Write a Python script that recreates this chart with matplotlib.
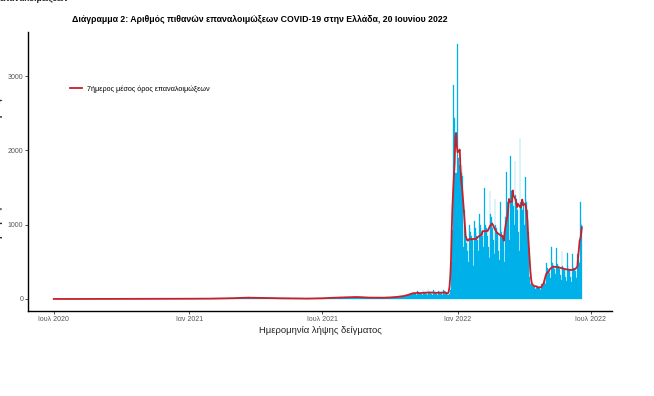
import numpy as np
import pandas as pd
import matplotlib
matplotlib.use("Agg")
import matplotlib.pyplot as plt

plt.rcParams['font.family'] = ['Liberation Sans', 'DejaVu Sans']

# ημερήσιες πιθανές επαναλοιμώξεις, από 1 Ιουλίου 2020 ως 19 Ιουνίου 2022
jul_2020 = [0, 0, 0, 1, 0, 0, 0, 0, 1, 0, 0, 0, 0, 0, 1, 0, 0, 0, 0, 0, 1, 0, 0, 0, 0, 1, 0, 0, 0, 0, 0]
aug_2020 = [0, 1, 0, 0, 0, 1, 0, 0, 0, 0, 1, 0, 0, 0, 0, 1, 0, 0, 1, 0, 0, 0, 0, 1, 0, 0, 0, 1, 0, 0, 0]
sep_2020 = [1, 0, 0, 1, 0, 0, 1, 0, 0, 1, 0, 0, 1, 0, 1, 0, 0, 1, 0, 0, 1, 0, 1, 0, 0, 1, 0, 0, 1, 0]
oct_2020 = [1, 0, 1, 0, 2, 1, 0, 1, 0, 2, 1, 0, 1, 2, 0, 1, 1, 0, 2, 1, 0, 1, 2, 1, 0, 1, 2, 1, 0, 1, 2]
nov_2020 = [2, 1, 3, 2, 1, 2, 3, 1, 2, 2, 3, 1, 2, 3, 2, 1, 2, 3, 2, 2, 1, 3, 2, 2, 3, 1, 2, 3, 2, 1]
dec_2020 = [2, 3, 2, 1, 2, 3, 2, 2, 1, 3, 2, 2, 3, 1, 2, 2, 3, 2, 1, 2, 3, 2, 1, 2, 2, 3, 2, 1, 2, 3, 2]
jan_2021 = [3, 2, 4, 3, 2, 4, 3, 5, 2, 3, 4, 3, 5, 4, 3, 2, 4, 5, 3, 4, 6, 3, 4, 5, 4, 3, 6, 4, 5, 4, 3]
feb_2021 = [5, 4, 6, 5, 7, 4, 5, 6, 8, 5, 6, 7, 5, 8, 6, 7, 9, 6, 7, 8, 6, 9, 8, 7, 10, 8, 9, 7]
mar_2021 = [10, 12, 9, 11, 14, 10, 12, 15, 11, 13, 16, 12, 14, 18, 13, 15, 17, 14, 16, 19, 15, 17, 20, 16, 18, 15, 19, 17, 14, 18, 16]
apr_2021 = [17, 15, 19, 14, 16, 18, 13, 17, 15, 14, 16, 12, 15, 13, 14, 11, 13, 15, 12, 14, 11, 13, 10, 12, 14, 11, 10, 12, 9, 11]
may_2021 = [9, 10, 8, 11, 9, 7, 10, 8, 9, 7, 8, 10, 6, 8, 7, 9, 6, 8, 7, 5, 8, 6, 7, 5, 6, 8, 5, 7, 6, 5, 7]
jun_2021 = [5, 6, 4, 7, 5, 6, 4, 5, 6, 4, 5, 7, 4, 5, 6, 4, 5, 6, 5, 4, 6, 5, 7, 5, 6, 8, 6, 7, 9, 7]
jul_2021 = [8, 10, 9, 12, 11, 13, 10, 14, 12, 15, 13, 16, 14, 17, 15, 18, 16, 14, 17, 19, 16, 18, 20, 17, 19, 21, 18, 20, 22, 19, 21]
aug_2021 = [22, 20, 24, 21, 25, 23, 19, 26, 24, 22, 27, 25, 23, 28, 26, 24, 29, 25, 27, 23, 26, 24, 22, 25, 21, 23, 20, 22, 19, 21, 18]
sep_2021 = [20, 17, 19, 16, 18, 15, 17, 14, 16, 18, 15, 17, 14, 16, 13, 15, 17, 14, 16, 18, 15, 17, 19, 16, 18, 20, 17, 19, 21, 18]
oct_2021 = [20, 22, 19, 23, 25, 21, 24, 26, 22, 28, 30, 26, 32, 29, 34, 31, 36, 33, 38, 42, 37, 45, 50, 46, 55, 60, 52, 65, 70, 62, 75]
nov_2021 = [80, 72, 85, 95, 78, 60, 55, 110, 90, 85, 80, 75, 62, 50, 120, 95, 88, 82, 78, 65, 55, 130, 100, 92, 86, 80, 68, 58, 125, 98]
dec_2021 = [85, 95, 70, 60, 55, 110, 100, 90, 85, 80, 65, 55, 120, 105, 95, 90, 80, 60, 60, 55,
            70, 120, 250, 500, 930, 1500, 2880, 2440, 1700, 1600, 1700]
jan_2022 = [3430, 1900, 1700, 1800, 1750, 1700, 1800, 1650, 700, 1200, 1000, 850, 750, 800, 650, 500,
            1000, 950, 900, 850, 800, 650, 450, 1050, 950, 900, 850, 800, 650, 500, 1150]
feb_2022 = [1000, 950, 900, 850, 700, 500, 1490, 1000, 950, 900, 850, 700, 550, 1460, 1150, 1100,
            1050, 950, 800, 600, 1350, 1000, 950, 900, 850, 650, 520, 1300]
mar_2022 = [950, 900, 850, 800, 650, 500, 1100, 700, 1710, 1300, 1250, 1000, 800, 1920, 1450, 1400,
            1350, 1250, 1000, 1860, 1400, 1350, 1300, 1200, 900, 650, 2170, 1300, 1250, 1200, 1150]
apr_2022 = [1300, 1000, 1640, 1350, 1300, 1200, 900, 700, 300, 200, 210, 190, 170, 160, 220, 180,
            140, 150, 180, 170, 160, 150, 130, 120, 200, 170, 160, 190, 260, 280]
may_2022 = [200, 480, 420, 400, 380, 350, 280, 250, 700, 480, 450, 430, 400, 330, 260, 680,
            470, 440, 420, 400, 320, 250, 650, 450, 420, 400, 380, 300, 240, 620, 440]
jun_2022 = [410, 390, 370, 290, 230, 600, 440, 420, 400, 380, 300, 280, 600, 520, 500, 480, 1300, 1080, 1000]

x_tick_dates = ['2020-07-01', '2021-01-01', '2021-07-01', '2022-01-01', '2022-07-01']
x_tick_labels = ['Ιουλ 2020', 'Ιαν 2021', 'Ιουλ 2021', 'Ιαν 2022', 'Ιουλ 2022']
y_ticks = [0, 1000, 2000, 3000]

cases = (jul_2020 + aug_2020 + sep_2020 + oct_2020 + nov_2020 + dec_2020 + jan_2021 + feb_2021
         + mar_2021 + apr_2021 + may_2021 + jun_2021 + jul_2021 + aug_2021 + sep_2021 + oct_2021
         + nov_2021 + dec_2021 + jan_2022 + feb_2022 + mar_2022 + apr_2022 + may_2022 + jun_2022)
df = pd.DataFrame({'date': pd.date_range('2020-07-01', periods=len(cases), freq='D'),
                   'cases': cases})
df['ma7'] = df['cases'].rolling(7, center=True, min_periods=1).mean()

fig = plt.figure(figsize=(6.54, 3.96), dpi=100)
ax = fig.add_axes([28 / 654, 85 / 396, 584 / 654, 279 / 396])

ax.bar(df['date'], df['cases'], width=1.0, color='#00B0E8', edgecolor='#00B0E8', linewidth=0.2)
ax.plot(df['date'], df['ma7'], color='#C8202A', linewidth=1.3,
        label='7ήμερος μέσος όρος επαναλοιμώξεων')

ax.set_xlim(pd.Timestamp('2020-05-27'), pd.Timestamp('2022-07-30'))
ax.set_ylim(-162, 3594)
ax.set_xticks(pd.to_datetime(x_tick_dates))
ax.set_xticklabels(x_tick_labels)
ax.set_yticks(y_ticks)
ax.tick_params(labelsize=5, colors='#333333', length=2, width=0.6, pad=1.5)
ax.tick_params(axis='both', labelcolor='#555555')

for side in ['top', 'right']:
    ax.spines[side].set_visible(False)
for side in ['left', 'bottom']:
    ax.spines[side].set_linewidth(1.0)
    ax.spines[side].set_color('black')

ax.set_xlabel('Ημερομηνία λήψης δείγματος', fontsize=6.8, color='#222222', labelpad=2)

leg = ax.legend(loc='center left', bbox_to_anchor=(0.072, 0.796), frameon=False,
                fontsize=5.2, handlelength=1.6, handletextpad=0.8,
                borderpad=0, borderaxespad=0)

fig.text(72 / 654, 1 - 19 / 396,
         'Διάγραμμα 2: Αριθμός πιθανών επαναλοιμώξεων COVID-19 στην Ελλάδα, 20 Ιουνίου 2022',
         fontsize=6.3, fontweight='bold', ha='left', va='center')
# κείμενα που κόβονται στις άκρες της εικόνας, όπως στο πρωτότυπο
fig.text(0.0, 1.0 + 1 / 396, 'επαναλοιμώξεων', fontsize=6, fontweight='bold', ha='left',
         va='center', color='#222222')
fig.text(-2 / 654, 0.59, 'Αριθμός πιθανών επαναλοιμώξεων', fontsize=7, fontweight='bold',
         rotation=90, ha='center', va='center', color='#1F2A44')

fig.savefig('out.png', dpi=100)
